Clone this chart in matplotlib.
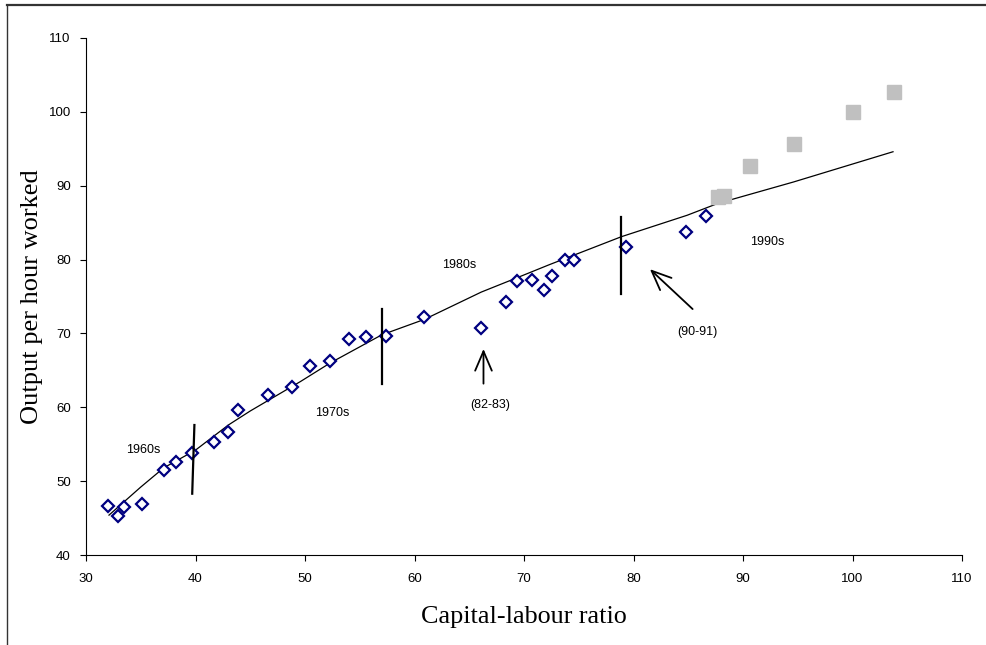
import matplotlib
matplotlib.use("Agg")
import matplotlib.pyplot as plt
from matplotlib.lines import Line2D

# Observed data (diamonds)
obs_x = [32.0, 32.9, 33.5, 35.1, 37.1, 38.2, 39.7, 41.7, 43.0, 43.9, 46.6, 48.8,
         50.5, 52.3, 54.0, 55.6, 57.4, 60.9, 66.1, 68.4, 69.4, 70.7, 71.8, 72.6,
         73.7, 74.6, 79.3, 84.8, 86.6]
obs_y = [46.6, 45.3, 46.5, 46.9, 51.5, 52.6, 53.8, 55.3, 56.7, 59.7, 61.6, 62.7,
         65.6, 66.2, 69.2, 69.5, 69.7, 72.2, 70.8, 74.3, 77.1, 77.2, 75.9, 77.8,
         80.0, 79.9, 81.7, 83.7, 85.9]

# Projection (grey squares)
proj_x = [87.7, 88.3, 90.6, 94.7, 100.0, 103.8]
proj_y = [88.5, 88.6, 92.7, 95.7, 100.0, 102.7]

# Fitted trend line
fit_x = [32.1, 35.0, 37.1, 40.0, 43.0, 45.0, 49.6, 52.3, 57.0, 60.9, 66.1, 69.3,
         72.3, 78.9, 84.9, 87.7, 94.6, 103.7]
fit_y = [45.4, 49.2, 51.8, 54.2, 57.6, 59.5, 63.5, 66.0, 69.8, 71.9, 75.6, 77.5,
         79.3, 83.1, 86.0, 87.6, 90.5, 94.6]

# Decade separators: (x_top, y_top, x_bottom, y_bottom)
sep_lines = [(39.9, 57.6, 39.7, 48.3), (57.0, 73.3, 57.0, 63.2), (78.9, 85.8, 78.9, 75.3)]

decade_labels = ["1960s", "1970s", "1980s", "1990s"]
decade_pos = [(35.2, 54.2), (52.5, 59.2), (64.1, 79.3), (92.2, 82.4)]

x_ticks = [30, 40, 50, 60, 70, 80, 90, 100, 110]
y_ticks = [40, 50, 60, 70, 80, 90, 100, 110]

fig = plt.figure(figsize=(9.87, 6.45), dpi=100)
ax = fig.add_axes([86/987, 1-555/645, (962-86)/987, (555-38)/645])

ax.plot(fit_x, fit_y, color="black", lw=0.9, zorder=2)
ax.plot(obs_x, obs_y, linestyle="none", marker="D", ms=6.2, mfc="white",
        mec="#000080", mew=1.6, zorder=3)
ax.plot(proj_x, proj_y, linestyle="none", marker="s", ms=10, mfc="#C0C0C0",
        mec="#C0C0C0", zorder=3)

for (x0, y0, x1, y1) in sep_lines:
    ax.plot([x0, x1], [y0, y1], color="black", lw=1.6, zorder=4)

for lab, (x, y) in zip(decade_labels, decade_pos):
    ax.text(x, y, lab, ha="center", va="center", fontsize=9,
            family="Liberation Sans")

ax.annotate("", xy=(66.3, 67.9), xytext=(66.3, 63.2),
            arrowprops=dict(arrowstyle="->,head_length=1.4,head_width=0.6",
                            lw=1.3, color="black", shrinkA=0, shrinkB=0))
ax.text(66.9, 60.3, "(82-83)", ha="center", va="center", fontsize=9,
        family="Liberation Sans")
ax.annotate("", xy=(81.5, 78.7), xytext=(85.4, 73.3),
            arrowprops=dict(arrowstyle="->,head_length=1.4,head_width=0.6",
                            lw=1.3, color="black", shrinkA=0, shrinkB=0))
ax.text(85.8, 70.2, "(90-91)", ha="center", va="center", fontsize=9,
        family="Liberation Sans")

ax.set_xlim(30, 110)
ax.set_ylim(40, 110)
ax.set_xticks(x_ticks)
ax.set_yticks(y_ticks)
for lab in ax.get_xticklabels() + ax.get_yticklabels():
    lab.set_family("Liberation Sans")
    lab.set_fontsize(9.5)
ax.tick_params(direction="out", length=4, width=0.8, color="black")
ax.tick_params(axis="x", pad=9)
ax.tick_params(axis="y", pad=7)
ax.spines["top"].set_visible(False)
ax.spines["right"].set_visible(False)
for s in ("left", "bottom"):
    ax.spines[s].set_linewidth(0.8)

ax.set_xlabel("Capital-labour ratio", family="Liberation Serif", fontsize=18.8,
              labelpad=15)
ax.set_ylabel("Output per hour worked", family="Liberation Serif", fontsize=19,
              labelpad=4)

# outer frame lines (top and left)
fig.add_artist(Line2D([7/987, 1.0], [1-5/645, 1-5/645], transform=fig.transFigure,
                      color="#333333", lw=1.6))
fig.add_artist(Line2D([7/987, 7/987], [0, 1-5/645], transform=fig.transFigure,
                      color="#333333", lw=1.0))

fig.savefig("out.png", dpi=100)
